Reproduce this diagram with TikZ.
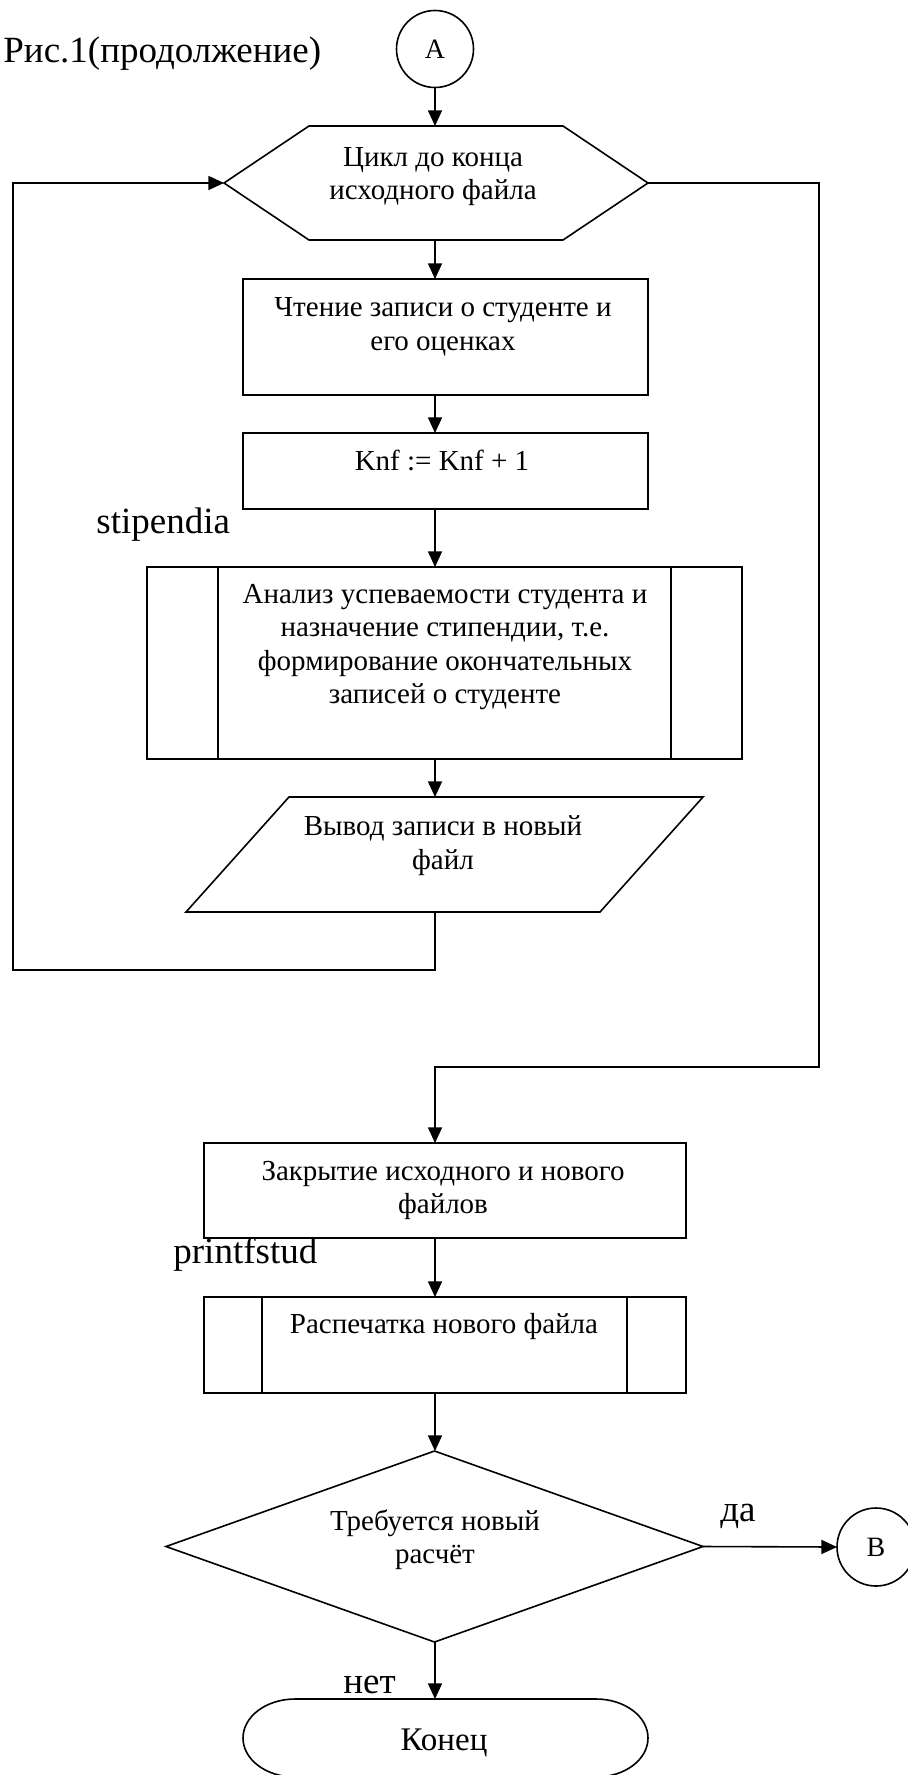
\documentclass[tikz,border=0pt]{standalone}
\usepackage{fontspec}
\setmainfont{Liberation Serif}
\usetikzlibrary{arrows.meta,shapes.geometric}

\newcommand\fbody{\fontsize{14.5pt}{16.75pt}\selectfont}
\newcommand\flab{\fontsize{18.5pt}{22pt}\selectfont}
\newcommand\fconn{\fontsize{14pt}{16pt}\selectfont}
\newcommand\fend{\fontsize{16.5pt}{19pt}\selectfont}

\tikzset{
  ln/.style={line width=0.8pt},
  boxnode/.style={draw, ln, rectangle, inner sep=0pt, outer sep=0pt, anchor=north west},
  frame/.style={rectangle, inner sep=0pt, outer sep=0pt, anchor=north west},
  conn/.style={draw, ln, circle, inner sep=0pt, outer sep=0pt, font=\fconn},
  arr/.style={ln, -{Triangle[length=7.8pt,width=7pt]}},
  % multi-line texts are placed by the baseline of their last line
  txt/.style={anchor=base, align=center, font=\fbody, inner sep=0pt},
  lbl/.style={anchor=base west, font=\flab, inner sep=0pt},
}

\begin{document}
\begin{tikzpicture}[x=0.5pt, y=-0.5pt, line join=miter]
\useasboundingbox (0,0) rectangle (908,1775);
\fill[white] (0,0) rectangle (908,1775);

% caption and connector labels
\node[lbl] (title) at (3,63) {Рис.1(продолжение)};
\node[lbl] (lstip) at (96,533) {stipendia};
\node[lbl] (lprint) at (173,1263) {printfstud};
\node[lbl] (lyes) at (720,1521) {да};
\node[lbl] (lno) at (343,1693) {нет};

% entry connector
\node[conn, minimum size=38.5pt] (A) at (435,49) {A};

% loop header (hexagon)
\node[frame, minimum width=212pt, minimum height=57pt] (hex) at (224,126) {};
\draw[ln] (hex.west) -- ([xshift=42.5pt]hex.north west) -- ([xshift=-42.5pt]hex.north east)
  -- (hex.east) -- ([xshift=-42.5pt]hex.south east) -- ([xshift=42.5pt]hex.south west) -- cycle;
\node[txt] (hext) at (433,200) {Цикл до конца\\исходного файла};

% read record
\node[boxnode, minimum width=202.5pt, minimum height=58pt] (box1) at (243,279) {};
\node[txt] (box1t) at (443,350.5) {Чтение записи о студенте и\\его оценках};

% counter
\node[boxnode, minimum width=202.5pt, minimum height=38pt] (box2) at (243,433) {};
\node[txt] (box2t) at (442,470) {Knf := Knf + 1};

% predefined process: stipendia
\node[boxnode, minimum width=297.5pt, minimum height=96pt] (box3) at (147,567) {};
\draw[ln] ([xshift=35.5pt]box3.north west) -- ([xshift=35.5pt]box3.south west);
\draw[ln] ([xshift=-35.5pt]box3.north east) -- ([xshift=-35.5pt]box3.south east);
\node[txt] (box3t) at (445,703.5) {Анализ успеваемости студента и\\назначение стипендии, т.е.\\формирование окончательных\\записей о студенте};

% output (parallelogram)
\node[frame, minimum width=258.5pt, minimum height=57.5pt] (para) at (186,797) {};
\draw[ln] ([xshift=51.5pt]para.north west) -- (para.north east)
  -- ([xshift=-51.5pt]para.south east) -- (para.south west) -- cycle;
\node[txt] (parat) at (443,869) {Вывод записи в новый\\файл};

% close files
\node[boxnode, minimum width=241pt, minimum height=47.5pt] (box4) at (204,1143) {};
\node[txt] (box4t) at (443,1213.5) {Закрытие исходного и нового\\файлов};

% predefined process: printfstud
\node[boxnode, minimum width=241pt, minimum height=48pt] (box5) at (204,1297) {};
\draw[ln] ([xshift=29pt]box5.north west) -- ([xshift=29pt]box5.south west);
\draw[ln] ([xshift=-29.5pt]box5.north east) -- ([xshift=-29.5pt]box5.south east);
\node[txt] (box5t) at (444,1333) {Распечатка нового файла};

% decision
\node[diamond, draw, ln, inner sep=0pt, outer sep=0pt, minimum width=268.5pt, minimum height=95.5pt] (dec) at (434.5,1546.5) {};
\node[txt] (dect) at (435,1563.5) {Требуется новый\\расчёт};

% exit connector
\node[conn, minimum size=39pt] (B) at (876,1547) {B};

% terminator
\node[frame, minimum width=202.5pt, minimum height=39pt] (term) at (243,1699) {};
\draw[ln] ([xshift=26pt]term.north west) -- ([xshift=-26pt]term.north east)
  arc[start angle=90, end angle=-90, x radius=26pt, y radius=19.5pt]
  -- ([xshift=26pt]term.south west)
  arc[start angle=270, end angle=90, x radius=26pt, y radius=19.5pt] -- cycle;
\node[txt, font=\fend] (termt) at (444,1750) {Конец};

% corner points of the two loop lines
\coordinate (loopL) at (13,970);
\coordinate (loopR) at (819,1067);

% connectors
\draw[arr] (A.south) -- (hex.north -| A);
\draw[arr] (hex.south -| A) -- (box1.north -| A);
\draw[arr] (box1.south -| A) -- (box2.north -| A);
\draw[arr] (box2.south -| A) -- (box3.north -| A);
\draw[arr] (box3.south -| A) -- (para.north -| A);
\draw[arr] (para.south -| A) |- (loopL) |- (hex.west);
\draw[arr] (hex.east) -| (loopR) -| (box4.north -| A);
\draw[arr] (box4.south -| A) -- (box5.north -| A);
\draw[arr] (box5.south -| A) -- (dec.north -| A);
\draw[arr] (dec.east) -- (B.west);
\draw[arr] (dec.south -| A) -- (term.north -| A);
\end{tikzpicture}
\end{document}
